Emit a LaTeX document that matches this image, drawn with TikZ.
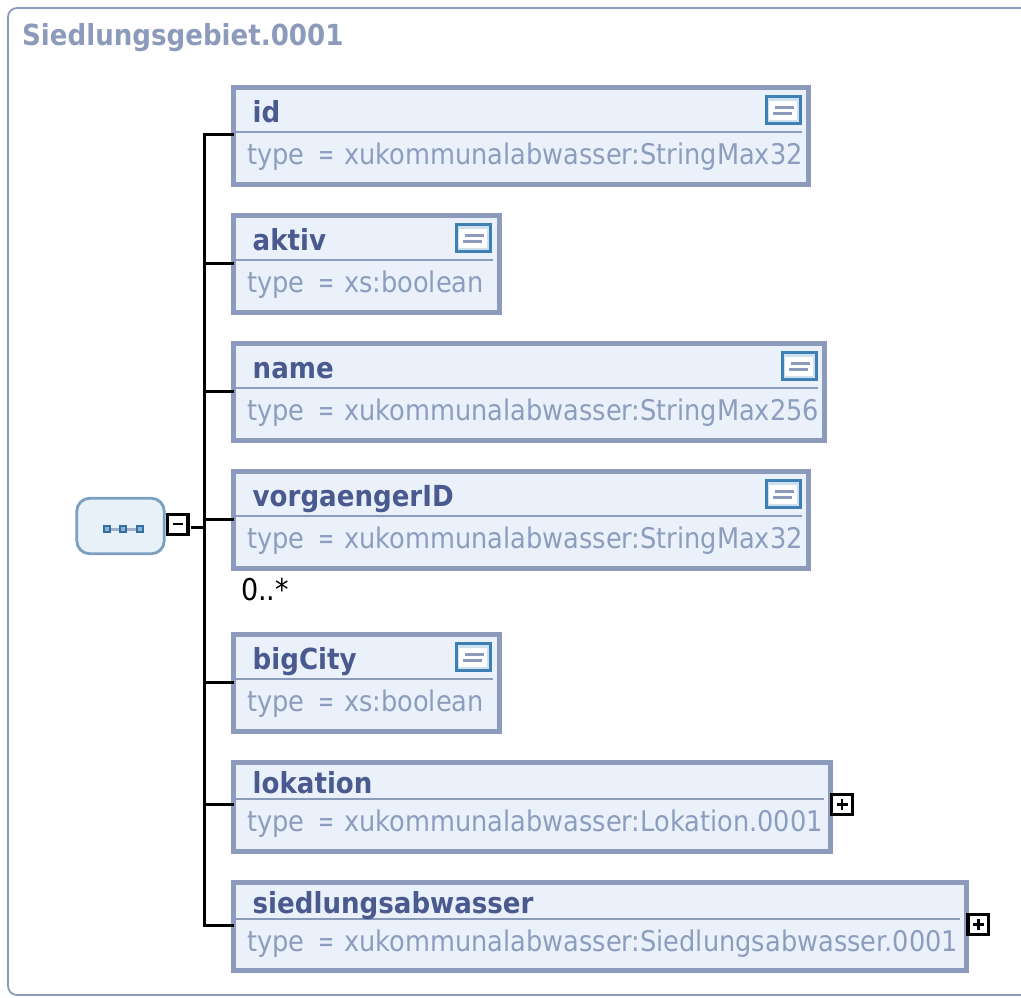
\documentclass[tikz,border=0pt]{standalone}
\usepackage{fontspec}
\setmainfont[FakeStretch=0.9]{DejaVu Sans}
\definecolor{frameblue}{HTML}{8C9BBB}
\definecolor{boxfill}{HTML}{EAF1FB}
\definecolor{namecol}{HTML}{4A5A8F}
\definecolor{typecol}{HTML}{8C9DBE}
\definecolor{seqline}{HTML}{7C9FC0}
\definecolor{seqfill}{HTML}{E8F0F8}
\definecolor{iconblue}{HTML}{3F80B4}
\definecolor{iconband}{HTML}{CFE0EF}
\definecolor{dotblue}{HTML}{2F6FA3}
\tikzset{
  x=1pt,y=-1pt,
  elembox/.style={draw=frameblue,line width=5.4pt,fill=boxfill,inner sep=0pt,outer sep=0pt,anchor=north west},
  divider/.style={draw=frameblue,line width=2.2pt},
  namelabel/.style={font=\fontsize{29}{29}\selectfont\bfseries,text=namecol,inner sep=0pt,anchor=base west},
  typelabel/.style={font=\fontsize{28.5}{29}\selectfont,text=typecol,inner sep=0pt,anchor=base west},
  conn/.style={draw=black,line width=3pt,line cap=rect},
  togglebox/.style={draw=black,line width=3.3pt,fill=white,minimum width=20.4pt,minimum height=20.4pt,inner sep=0pt,outer sep=0pt},
  sign/.style={draw=black,line width=2.8pt},
  occurs/.style={font=\fontsize{30}{30}\selectfont,text=black,inner sep=0pt,anchor=base west}
}
% #1 node name, #2 left, #3 top, #4 right, #5 bottom, #6 divider y, #7 name, #8 type, #9 name baseline
\newcommand{\elem}[9]{%
  \node[elembox,minimum width=#4-#2-4pt,minimum height=#5-#3-4pt] (#1) at (#2+2.7,#3+2.2) {};
  \draw[divider] (#2+5,#6) -- (#4-8,#6);
  \node[namelabel] (#1name) at (252.5,#9) {#7};
  \node[typelabel] (#1type) at (247,#6+32.7) {type\hspace{13.5pt}\scalebox{0.75}[1]{=}\hspace{10pt}#8};
}
% #1 right edge of the icon, #2 top of the icon
\newcommand{\docicon}[2]{%
  \begin{scope}[shift={(#1,#2)}]
    \fill[iconband,draw=iconblue,line width=3pt] (-35.5,1.5) rectangle (-1.5,28.5);
    \fill[white] (-33,6) rectangle (-5,25);
    \draw[frameblue,line width=3pt] (-27,12.5) -- (-8,12.5);
    \draw[frameblue,line width=3pt] (-29,18) -- (-10,18);
  \end{scope}}
\begin{document}
\begin{tikzpicture}
\useasboundingbox (0,0) rectangle (1021,997);
\draw[frameblue,line width=1.8pt,rounded corners=9pt] (1030,8) -- (8,8) -- (8,995) -- (1030,995);
\node[font=\fontsize{29}{29}\selectfont\bfseries,text=frameblue,inner sep=0pt,anchor=base west] (title) at (22,45) {Siedlungsgebiet.0001};

% trunk
\coordinate (tid) at (204,134);
\coordinate (taktiv) at (204,263);
\coordinate (tname) at (204,391);
\coordinate (tvor) at (204,519);
\coordinate (tbig) at (204,682);
\coordinate (tlok) at (204,804);
\coordinate (tsied) at (204,925);
\coordinate (tseq) at (204,527);

\draw[conn] (tid) -- (tsied);

\elem{id}{231}{85}{810}{186}{132}{id}{xukommunalabwasser:StringMax32}{122}
\docicon{802}{95}
\elem{aktiv}{231}{213}{501}{314}{260}{aktiv}{xs:boolean}{250}
\docicon{492}{223}
\elem{name}{231}{341}{826}{442}{388}{name}{xukommunalabwasser:StringMax256}{378}
\docicon{818}{351}
\elem{vor}{231}{469}{810}{570}{516}{vorgaengerID}{xukommunalabwasser:StringMax32}{506}
\docicon{802}{479}
\node[occurs] (occ) at (241,600) {0..*};
\elem{big}{231}{632}{501}{733}{679}{bigCity}{xs:boolean}{669}
\docicon{492}{642}
\elem{lok}{231}{760}{832}{853}{799}{lokation}{xukommunalabwasser:Lokation.0001}{793}
\elem{sied}{231}{880}{968}{972}{919}{siedlungsabwasser}{xukommunalabwasser:Siedlungsabwasser.0001}{913}

\draw[conn,line cap=butt] (tid) -- (tid -| id.west);
\draw[conn,line cap=butt] (taktiv) -- (taktiv -| aktiv.west);
\draw[conn,line cap=butt] (tname) -- (tname -| name.west);
\draw[conn,line cap=butt] (tvor) -- (tvor -| vor.west);
\draw[conn,line cap=butt] (tbig) -- (tbig -| big.west);
\draw[conn,line cap=butt] (tlok) -- (tlok -| lok.west);
\draw[conn,line cap=butt] (tsied) -- (tsied -| sied.west);

% sequence compositor
\node[draw=seqline,line width=2.8pt,fill=seqfill,rounded corners=13pt,minimum width=87.5pt,minimum height=55.5pt,inner sep=0pt,outer sep=0pt] (seq) at (120.5,526) {};
\draw[frameblue!80,line width=3pt] (107,529) -- (140,529);
\foreach \xx in {107,123,140} \fill[dotblue] (\xx-4,525) rectangle (\xx+4,533);
\foreach \xx in {107,123,140} \fill[iconblue!60] (\xx-1.7,527.3) rectangle (\xx+1.7,530.7);

\node[togglebox] (minus) at (177.8,524.5) {};
\draw[sign] (172.5,524) -- (183.2,524);
\coordinate (stub) at (191,527);
\draw[conn,line cap=butt] (stub) -- (tseq);

\node[togglebox] (plus1) at (842,804.5) {};
\draw[sign] (836.5,804.5) -- (847.5,804.5) (842,799) -- (842,810);
\node[togglebox] (plus2) at (978.2,924.5) {};
\draw[sign] (972.7,924.5) -- (983.7,924.5) (978.2,919) -- (978.2,930);
\end{tikzpicture}
\end{document}
